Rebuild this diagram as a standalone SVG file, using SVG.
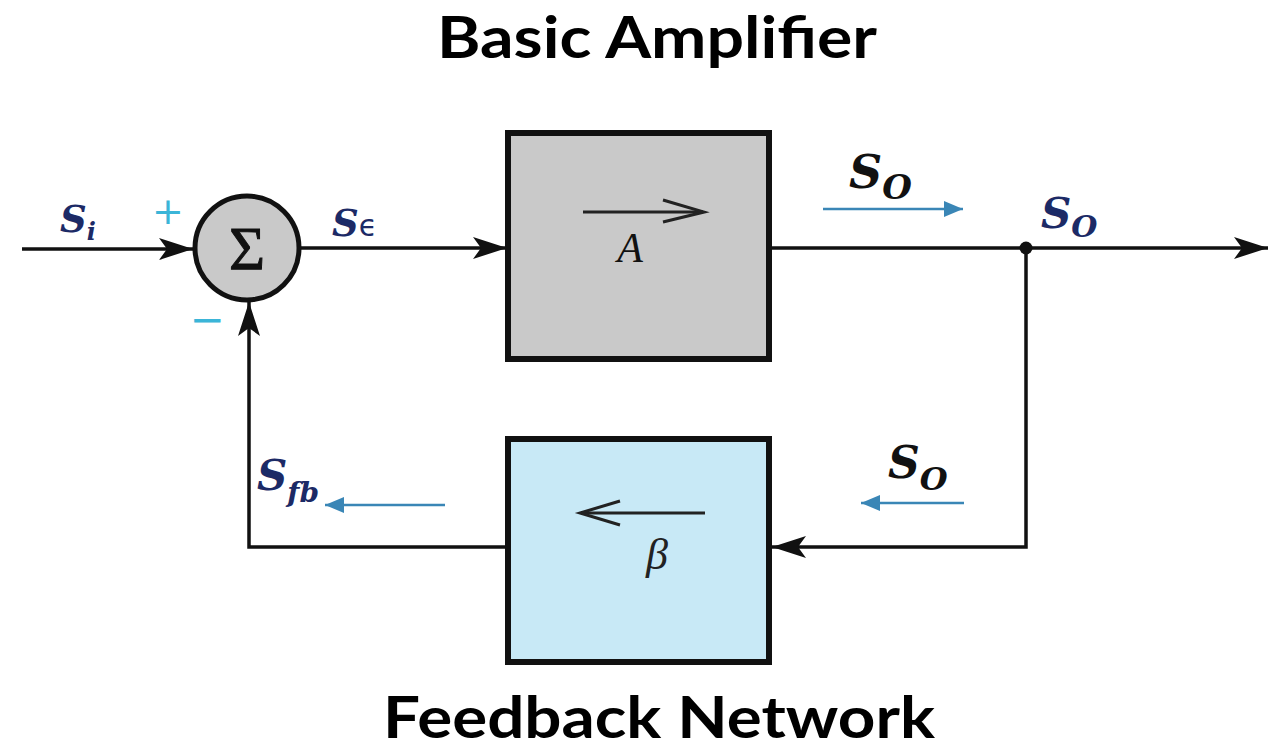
<svg xmlns="http://www.w3.org/2000/svg" width="1268" height="751" viewBox="0 0 1268 751">
<style>
.title{font-family:Lato,"DejaVu Sans",sans-serif;font-weight:bold;font-size:57px;fill:#000}
.sym{font-family:"DejaVu Serif",serif;font-weight:bold;font-style:italic}
.navy{fill:#1c2a66}
.blk{fill:#111}
.wire{fill:none;stroke:#111;stroke-width:3.5}
.box{stroke:#111;stroke-width:6}
.blue{fill:none;stroke:#3a86b6;stroke-width:2.5}
.inner{fill:none;stroke:#222;stroke-width:3}
.sign{font-family:"DejaVu Sans",sans-serif;fill:#3bb5d8}
</style>
<defs>
<marker id="ah" markerUnits="userSpaceOnUse" markerWidth="36" markerHeight="22" refX="34" refY="11" orient="auto">
<path d="M0,0 L34,11 L0,22 L8,11 z" fill="#111"/>
</marker>
<marker id="bh" markerUnits="userSpaceOnUse" markerWidth="20" markerHeight="16" refX="19" refY="8" orient="auto">
<path d="M0,0 L19,8 L0,16 z" fill="#3a86b6"/>
</marker>
</defs>
<rect width="1268" height="751" fill="#fff"/>
<text class="title" x="657" y="58" text-anchor="middle" textLength="440" lengthAdjust="spacingAndGlyphs">Basic Amplifier</text>
<text class="title" x="659" y="738" font-size="54" text-anchor="middle" textLength="552" lengthAdjust="spacingAndGlyphs">Feedback Network</text>

<g id="connectors">
<line class="wire" x1="22" y1="249" x2="193" y2="249" marker-end="url(#ah)"/>
<line class="wire" x1="299" y1="248" x2="507" y2="248" marker-end="url(#ah)"/>
<line class="wire" x1="770" y1="248" x2="1268" y2="248" marker-end="url(#ah)"/>
<polyline class="wire" points="1026,248 1026,547 772,547" marker-end="url(#ah)"/>
<polyline class="wire" points="506,547 249,547 249,302" marker-end="url(#ah)"/>
<circle cx="1026" cy="248" r="6.5" fill="#111"/>
<line class="blue" x1="823" y1="209" x2="963" y2="209" marker-end="url(#bh)"/>
<line class="blue" x1="964" y1="503" x2="861" y2="503" marker-end="url(#bh)"/>
<line class="blue" x1="445" y1="505" x2="325" y2="505" marker-end="url(#bh)"/>
</g>

<g id="sum">
<circle cx="247" cy="248" r="52" fill="#c9c9c9" stroke="#111" stroke-width="5"/>
<text x="247" y="269" text-anchor="middle" font-family="Liberation Serif,serif" font-size="62" fill="#111" stroke="#111" stroke-width="1">Σ</text>
<text class="sign" x="168" y="224" text-anchor="middle" font-size="38">+</text>
<text class="sign" x="207" y="334" text-anchor="middle" font-size="42">−</text>
</g>

<g id="amp">
<rect class="box" x="508" y="133" width="261" height="226" fill="#c9c9c9"/>
<line class="inner" x1="583" y1="212" x2="703" y2="212"/>
<polyline class="inner" points="663,200 704,212 663,222"/>
<text x="630" y="262" text-anchor="middle" font-family="Liberation Serif,serif" font-style="italic" font-size="42" fill="#111">A</text>
</g>

<g id="feedback">
<rect class="box" x="508" y="439" width="261" height="223" fill="#c8e9f6"/>
<line class="inner" x1="705" y1="513" x2="581" y2="513"/>
<polyline class="inner" points="620,501 580,513 620,525"/>
<text x="657" y="569" text-anchor="middle" font-family="Liberation Serif,serif" font-style="italic" font-size="44" fill="#222">β</text>
</g>

<g id="labels">
<text class="sym navy" x="60" y="232" font-size="37">S<tspan font-size="24" dy="8">i</tspan></text>
<text class="sym navy" x="332" y="236" font-size="37">S<tspan font-family="DejaVu Sans,sans-serif" font-style="normal" font-weight="normal" font-size="30">ϵ</tspan></text>
<text class="sym blk" x="849" y="188" font-size="46">S<tspan font-size="34" dy="11">O</tspan></text>
<text class="sym navy" x="1041" y="228" font-size="42">S<tspan font-size="30" dy="9">O</tspan></text>
<text class="sym navy" x="257" y="490" font-size="42">S<tspan font-size="28" dy="12">fb</tspan></text>
<text class="sym blk" x="888" y="478" font-size="44">S<tspan font-size="32" dy="12">O</tspan></text>
</g>
</svg>
